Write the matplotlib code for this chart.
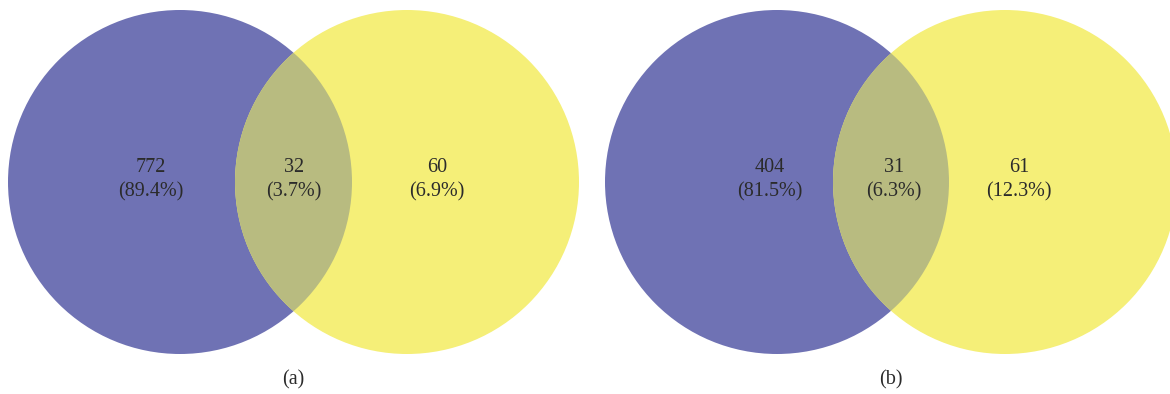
import matplotlib
matplotlib.use("Agg")
import matplotlib.pyplot as plt
from matplotlib.patches import Circle
from decimal import Decimal, ROUND_HALF_UP

# counts for each panel: only-left, shared, only-right
panels = ["(a)", "(b)"]
counts_a = [772, 32, 60]
counts_b = [404, 31, 61]
counts = [counts_a, counts_b]

BLUE = "#6f72b4"
YELLOW = "#f5ef78"
OVERLAP = "#b8bb80"
TEXT = "#2b2b2b"

plt.rcParams["font.family"] = ["Liberation Serif", "DejaVu Serif"]

fig = plt.figure(figsize=(11.7, 3.94), dpi=100)
ax = fig.add_axes([0, 0, 1, 1])
ax.set_xlim(0, 1170)
ax.set_ylim(394, 0)
ax.set_aspect("equal")
ax.axis("off")

R = 172
CY = 182
# left/right circle centres per panel
centres = [(180, 407), (777, 1005)]
# label x positions inside each region
label_x = [(151, 294, 437), (770, 894, 1019)]


def pct(v, total):
    p = Decimal(v * 100) / Decimal(total)
    return p.quantize(Decimal("0.1"), rounding=ROUND_HALF_UP)


for (lx, rx), vals, xs, tag in zip(centres, counts, label_x, panels):
    total = sum(vals)
    ax.add_patch(Circle((lx, CY), R, facecolor=BLUE, edgecolor="none"))
    right = Circle((rx, CY), R, facecolor=YELLOW, edgecolor="none")
    ax.add_patch(right)
    lens = Circle((lx, CY), R, facecolor=OVERLAP, edgecolor="none")
    ax.add_patch(lens)
    lens.set_clip_path(right)

    for x, v in zip(xs, vals):
        ax.text(x, 180, f"{v}\n({pct(v, total)}%)", ha="center", va="center",
                fontsize=14.5, color=TEXT, linespacing=1.35)

    ax.text((lx + rx) / 2, 380, tag, ha="center", va="center",
            fontsize=14.5, color=TEXT)

fig.savefig("out.png", dpi=100)
